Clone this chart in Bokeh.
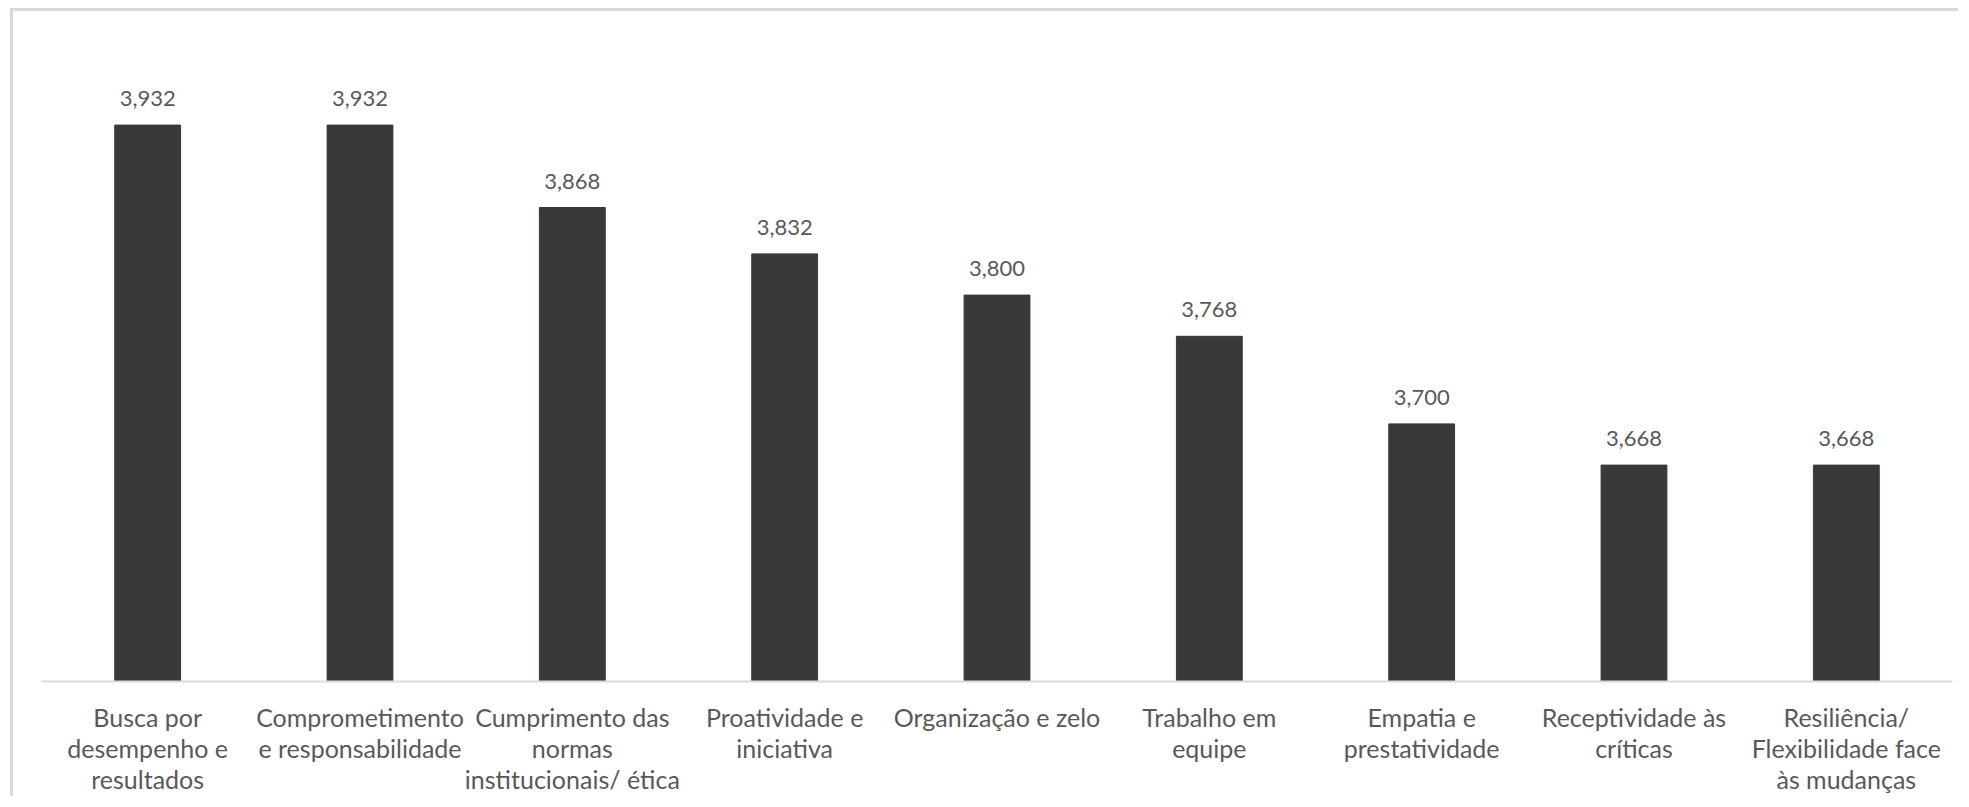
from bokeh.plotting import figure
from bokeh.models import (FactorRange, Range1d, ColumnDataSource, LabelSet,
                          CategoricalAxis, CustomJSTickFormatter)
from bokeh.core.properties import value
from bokeh.embed import file_html
from bokeh.resources import INLINE

categories = [
    "Busca por desempenho e resultados",
    "Comprometimento e responsabilidade",
    "Cumprimento das normas institucionais/ ética",
    "Proatividade e iniciativa",
    "Organização e zelo",
    "Trabalho em equipe",
    "Empatia e prestatividade",
    "Receptividade às críticas",
    "Resiliência/ Flexibilidade face às mudanças",
]
tick_lines = [
    ["Busca por", "desempenho e", "resultados"],
    ["Comprometimento", "e responsabilidade"],
    ["Cumprimento das", "normas", "institucionais/ ética"],
    ["Proatividade e", "iniciativa"],
    ["Organização e zelo"],
    ["Trabalho em", "equipe"],
    ["Empatia e", "prestatividade"],
    ["Receptividade às", "críticas"],
    ["Resiliência/", "Flexibilidade face", "às mudanças"],
]
values = [3.932, 3.932, 3.868, 3.832, 3.800, 3.768, 3.700, 3.668, 3.668]
value_labels = [f"{v:.3f}".replace(".", ",") for v in values]

FONT = "Lato"
TEXT_COLOR = "#595959"
BAR_COLOR = "#3a3838"
Y_MIN, Y_MAX = 3.5, 4.0

src = ColumnDataSource(dict(cat=categories, val=values, lab=value_labels))

p = figure(
    x_range=FactorRange(factors=categories, range_padding=0),
    y_range=Range1d(Y_MIN, Y_MAX),
    width=1948, height=788,
    output_backend="svg", toolbar_location=None,
    min_border_left=28, min_border_right=9, min_border_top=26, min_border_bottom=118,
    styles={"border-left": "3px solid #d9d9d9", "border-top": "3px solid #d9d9d9",
            "margin-left": "10px", "margin-top": "8px"},
)
p.vbar(x="cat", top="val", bottom=Y_MIN, width=0.31, source=src,
       fill_color=BAR_COLOR, line_color=BAR_COLOR)

labels = LabelSet(x="cat", y="val", text="lab", source=src, text_align="center",
                  text_baseline="alphabetic", y_offset=19, text_font=value(FONT),
                  text_font_size="22px", text_color=TEXT_COLOR)
p.add_layout(labels)

p.yaxis.visible = False
p.xgrid.visible = False
p.ygrid.visible = False
p.outline_line_color = None

def line_formatter(k):
    lines = [(l[k] if len(l) > k else "") for l in tick_lines]
    return CustomJSTickFormatter(
        args=dict(cats=categories, lines=lines),
        code="const i = cats.indexOf(tick); return i >= 0 ? lines[i] : '';",
    )

def style_axis(ax, standoff):
    ax.major_label_text_font = FONT
    ax.major_label_text_font_size = "25px"
    ax.major_label_text_color = TEXT_COLOR
    ax.major_label_standoff = standoff
    ax.major_tick_line_color = None
    ax.minor_tick_line_color = None
    ax.major_tick_out = 0
    ax.major_tick_in = 0
    ax.minor_tick_out = 0
    ax.minor_tick_in = 0

# first line of each category label on the main axis
ax0 = p.xaxis[0]
style_axis(ax0, 20)
ax0.axis_line_color = "#d9d9d9"
ax0.axis_line_width = 2
ax0.formatter = line_formatter(0)

# further lines on stacked axes below
for k in (1, 2):
    ax = CategoricalAxis(formatter=line_formatter(k))
    style_axis(ax, -2)
    ax.axis_line_color = None
    p.add_layout(ax, "below")

open("out.html", "w").write(file_html(p, INLINE))
